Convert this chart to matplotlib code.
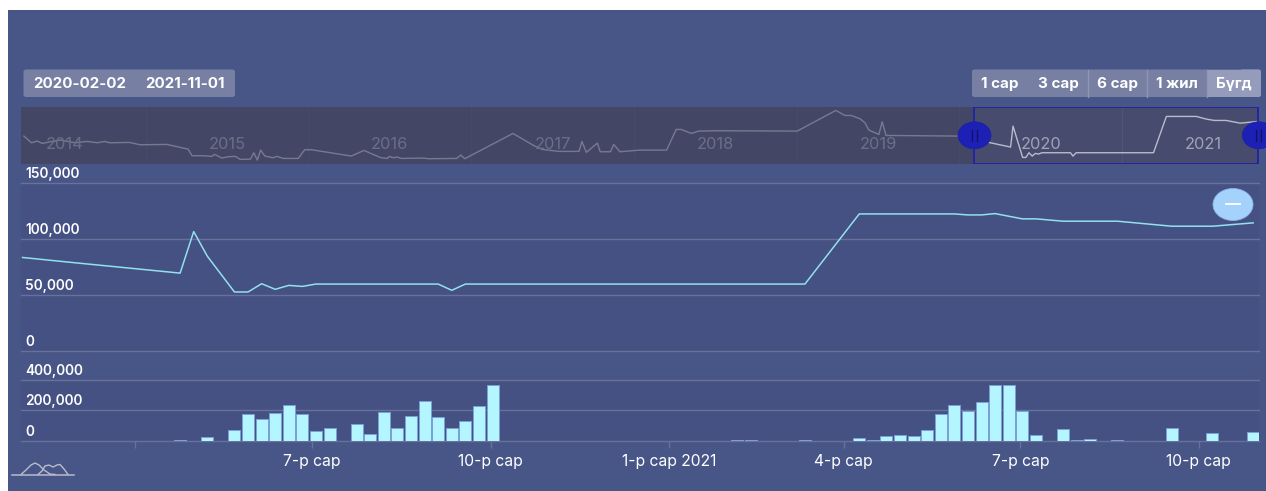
#!/usr/bin/env python
import matplotlib
matplotlib.use("Agg")
import matplotlib.dates as mdates
import matplotlib.pyplot as plt
import pandas as pd
from matplotlib.patches import Ellipse, FancyBboxPatch, Rectangle

W, H = 1266, 491
FONT = "Inter"
PANEL = "#485587"
PLOT_BG = "#445182"
GRID = "#687199"

# --- data: weeks counted from FIRST_WEEK ---
FIRST_WEEK = pd.Timestamp("2020-04-24")
X_START, X_END = pd.Timestamp("2020-02-02"), pd.Timestamp("2021-11-01")

price_weeks = [-11.6, -8.1, -3, 0, 1, 2, 4, 5, 6, 7, 8, 9, 10, 19, 20, 21, 46, 50,
               57, 58, 59, 60, 62, 63, 65, 69, 73, 76, 79]
price_values = [83300, 79000, 72900, 69300, 106500, 84500, 52400, 52400, 59800, 54800,
                58300, 57400, 59500, 59500, 53900, 59500, 59500, 122300, 122300, 121400,
                121400, 122600, 117900, 117900, 115800, 115800, 111300, 111300, 114300]

volume_weeks = [0, 1, 2, 4, 5, 6, 7, 8, 9, 10, 11, 13, 14, 15, 16, 17, 18, 19, 20, 21, 22, 23,
                41, 42, 46, 50, 51, 52, 53, 54, 55, 56, 57, 58, 59, 60, 61, 62, 63,
                65, 66, 67, 69, 73, 76, 79]
volume_values = [6500, 2000, 24000, 73500, 175000, 140000, 184000, 231000, 175000, 63000, 82000,
                 112000, 43000, 188000, 84000, 162000, 262000, 156000, 86000, 132000, 227000, 361000,
                 8000, 8000, 4000, 17000, 8000, 32000, 41000, 32000, 73000, 177000, 233000, 198000,
                 255000, 365000, 363000, 197000, 37000, 76000, 6000, 13000, 9000, 82000, 52000, 58000]

tick_dates = ["2020-04-01", "2020-07-01", "2020-10-01", "2021-01-01", "2021-04-01", "2021-07-01", "2021-10-01"]
tick_labels = ["", "7-р сар", "10-р сар", "1-р сар 2021", "4-р сар", "7-р сар", "10-р сар"]
price_ticks = [0, 50000, 100000, 150000]
volume_ticks = [0, 200000, 400000]

# navigator: whole history, x in decimal years
nav_years = [2014.253, 2014.299, 2014.334, 2014.366, 2014.416, 2014.479, 2014.567, 2014.642, 2014.705,
             2014.750, 2014.780, 2014.900, 2014.968, 2015.131, 2015.261, 2015.286, 2015.357, 2015.407,
             2015.424, 2015.469, 2015.507, 2015.552, 2015.582, 2015.645, 2015.665, 2015.687, 2015.707,
             2015.733, 2015.783, 2015.808, 2015.845, 2015.938, 2015.978, 2016.021, 2016.264, 2016.342,
             2016.397, 2016.447, 2016.485, 2016.497, 2016.522, 2016.547, 2016.572, 2016.710, 2016.735,
             2016.911, 2016.936, 2016.961, 2017.257, 2017.387, 2017.437, 2017.538, 2017.663, 2017.681,
             2017.708, 2017.776, 2017.793, 2017.856, 2017.876, 2017.914, 2018.034, 2018.201, 2018.260,
             2018.291, 2018.353, 2018.397, 2018.500, 2019.003, 2019.240, 2019.297, 2019.334, 2019.390,
             2019.419, 2019.444, 2019.505, 2019.525, 2019.549, 2019.996, 2020.089, 2020.180, 2020.314,
             2020.329, 2020.388, 2020.408, 2020.427, 2020.447, 2020.466, 2020.486, 2020.506, 2020.682,
             2020.697, 2020.717, 2021.192, 2021.271, 2021.455, 2021.516, 2021.565, 2021.638, 2021.724,
             2021.835]
nav_values = [88.4, 77.0, 79.9, 75.9, 78.7, 81.6, 77.0, 79.3, 77.0, 79.3, 77.0, 77.6, 73.6, 74.2, 66.2,
              54.9, 54.9, 53.8, 57.2, 50.9, 53.2, 53.8, 48.6, 49.2, 60.0, 47.5, 64.5, 54.3, 51.5, 53.8,
              50.3, 50.3, 65.1, 65.1, 54.3, 64.0, 57.2, 51.5, 50.3, 53.8, 51.5, 52.6, 50.3, 50.9, 49.8,
              50.3, 56.0, 49.8, 92.9, 71.9, 65.7, 62.3, 62.3, 79.3, 60.6, 76.5, 61.7, 61.7, 74.2, 61.7,
              64.5, 64.5, 99.7, 99.7, 92.9, 96.9, 97.5, 96.9, 132.1, 123.6, 123.6, 117.9, 111.1, 98.6,
              91.2, 112.8, 89.5, 88.4, 82.7, 77.6, 69.7, 105.4, 52.0, 52.0, 60.0, 54.3, 58.9, 57.7, 60.0,
              60.0, 54.3, 60.0, 60.0, 121.9, 121.9, 117.4, 115.1, 115.1, 110.5, 113.4]
nav_year_ticks = [2015, 2016, 2017, 2018, 2019, 2020, 2021]
nav_year_labels = [2014, 2015, 2016, 2017, 2018, 2019, 2020, 2021]
SEL_START, SEL_END = 2020.09, 2021.835


def px_axes(fig, left, top, right, bottom, **kw):
    return fig.add_axes([left / W, 1 - bottom / H, (right - left) / W, (bottom - top) / H], **kw)


def week_dates(weeks):
    return [FIRST_WEEK + pd.Timedelta(days=7 * w) for w in weeks]


def y_labels(ax, ticks):
    for t in ticks:
        ax.annotate(f"{t:,}", (0, t), xycoords=ax.get_yaxis_transform(), xytext=(3, 1.4),
                    textcoords="offset points", color="white", fontsize=9.8, fontweight="semibold",
                    family=FONT, va="bottom", annotation_clip=False)


def rounded(ax, x0, y0, x1, y1, color, r=2.5, alpha=1.0):
    ax.add_patch(FancyBboxPatch((x0 + r, y0 + r), x1 - x0 - 2 * r, y1 - y0 - 2 * r,
                                boxstyle=f"round,pad={r},rounding_size={r}",
                                fc=color, ec="none", alpha=alpha))


def main():
    fig = plt.figure(figsize=(W / 100, H / 100), dpi=100, facecolor="white")

    # panel behind everything
    bg = px_axes(fig, 0, 0, W, H, zorder=0)
    bg.set_xlim(0, W); bg.set_ylim(H, 0); bg.axis("off")
    bg.add_patch(Rectangle((8, 10), W - 8, H - 10, fc=PANEL, ec="none"))

    # --- price ---
    ax = px_axes(fig, 21, 183, 1259, 350.5, zorder=1, facecolor=PLOT_BG)
    ax.plot(week_dates(price_weeks), price_values, color="#93e0ee", lw=1.1, zorder=3)
    ax.set_xlim(X_START, X_END)
    ax.set_ylim(0, 150000)
    ax.set_yticks(price_ticks)
    ax.set_xticks([])
    ax.tick_params(axis="y", length=0, labelleft=False)
    ax.grid(axis="y", color=GRID, lw=1.0)
    ax.set_axisbelow(True)
    for s in ax.spines.values():
        s.set_visible(False)
    for t in ax.yaxis.get_gridlines():
        t.set_clip_on(False)
    y_labels(ax, price_ticks)

    # --- volume ---
    vol = px_axes(fig, 21, 379.5, 1259, 441, zorder=1, facecolor=PLOT_BG)
    vol.bar(week_dates(volume_weeks), volume_values, width=6.2, color="#b3f6ff",
            edgecolor="#7c9fd8", linewidth=0.7, zorder=3)
    vol.set_xlim(X_START, X_END)
    vol.set_ylim(0, 400000)
    vol.set_yticks(volume_ticks)
    vol.tick_params(axis="y", length=0, labelleft=False)
    vol.set_xticks(mdates.date2num(pd.to_datetime(tick_dates)))
    vol.set_xticklabels(tick_labels, color="white", fontsize=11.3, family=FONT)
    vol.tick_params(axis="x", length=5, width=1, color=GRID, pad=4.5)
    vol.grid(axis="y", color=GRID, lw=1.0)
    vol.set_axisbelow(True)
    for s in vol.spines.values():
        s.set_visible(False)
    for t in vol.yaxis.get_gridlines():
        t.set_clip_on(False)
    y_labels(vol, volume_ticks)

    # --- navigator ---
    nav = px_axes(fig, 21, 107, 1259, 164, zorder=1, facecolor="#474b6e")
    nav.set_xlim(2014.235, 2021.84)
    nav.set_ylim(40.8, 138)
    for y in nav_year_ticks:
        nav.axvline(y, color="#505478", lw=0.8, zorder=1)
    nav.plot(nav_years, nav_values, color="#b9bccb", lw=1.0, zorder=2)
    for y in nav_year_labels:
        nav.text(y + 0.5, 0.35, str(y), transform=nav.get_xaxis_transform(), ha="center", va="center",
                 color="#a0a3b8", fontsize=11.8, family=FONT, zorder=2)
    nav.axvspan(nav.get_xlim()[0], SEL_START, color="#41445f", alpha=0.55, lw=0, zorder=3)
    nav.axvspan(SEL_START, SEL_END, fc="none", ec="#1c1fa8", lw=1.2, zorder=4)
    nav.set_xticks([]); nav.set_yticks([])
    for s in nav.spines.values():
        s.set_visible(False)

    # --- controls on top, in pixel coordinates ---
    top = px_axes(fig, 0, 0, W, H, zorder=5)
    top.set_xlim(0, W); top.set_ylim(H, 0); top.axis("off")
    top.patch.set_alpha(0)

    rounded(top, 23.5, 69.5, 235, 97, "#777fa3")
    for x, s in [(79.5, "2020-02-02"), (185, "2021-11-01")]:
        top.text(x, 84, s, color="white", fontsize=10.9, fontweight="bold", family=FONT,
                 ha="center", va="center")

    rounded(top, 972, 69.5, 1261, 97, "#777fa3")
    top.add_patch(Rectangle((1207, 69.5), 52, 27.5, fc="#949bbb", ec="none"))
    rounded(top, 1240, 69.5, 1261, 97, "#949bbb")
    for x in (1088, 1146.5, 1207):
        top.plot([x, x], [69.5, 97], color="#8f96b6", lw=1)
    for x, s in [(1000, "1 сар"), (1058.6, "3 сар"), (1117.5, "6 сар"), (1176.5, "1 жил"), (1234, "Бүгд")]:
        top.text(x, 84, s, color="white", fontsize=10.9, fontweight="bold", family=FONT,
                 ha="center", va="center")

    # slider handles
    for cx in (974.5, 1258.8):
        top.add_patch(Ellipse((cx, 135.3), 33, 27, fc="#1c20b4", ec="#1c20a0", lw=0.5))
        for dx in (-2.5, 2):
            top.plot([cx + dx, cx + dx], [129.5, 141], color="#10125a", lw=0.9)

    # minus button
    top.add_patch(Ellipse((1233, 204.5), 40, 32, fc="#a5d2fd", ec="#8fb4e2", lw=0.6))
    top.plot([1226, 1240], [204, 204], color="white", lw=1.3)

    # small logo bottom-left
    top.plot([12, 74], [474.5, 474.5], color="#b9bccb", lw=1.1)
    top.plot([21, 26, 31, 35, 39, 44, 50, 55],
             [474.5, 470, 465, 463, 465, 470, 474, 474.5], color="#b9bccb", lw=1)
    top.plot([38, 42, 45, 49, 53, 57, 60, 64, 68],
             [474.5, 471, 466, 465, 467, 465, 464.5, 469, 474.5], color="#b9bccb", lw=1)

    fig.savefig("out.png", dpi=100, facecolor="white")


if __name__ == "__main__":
    main()
